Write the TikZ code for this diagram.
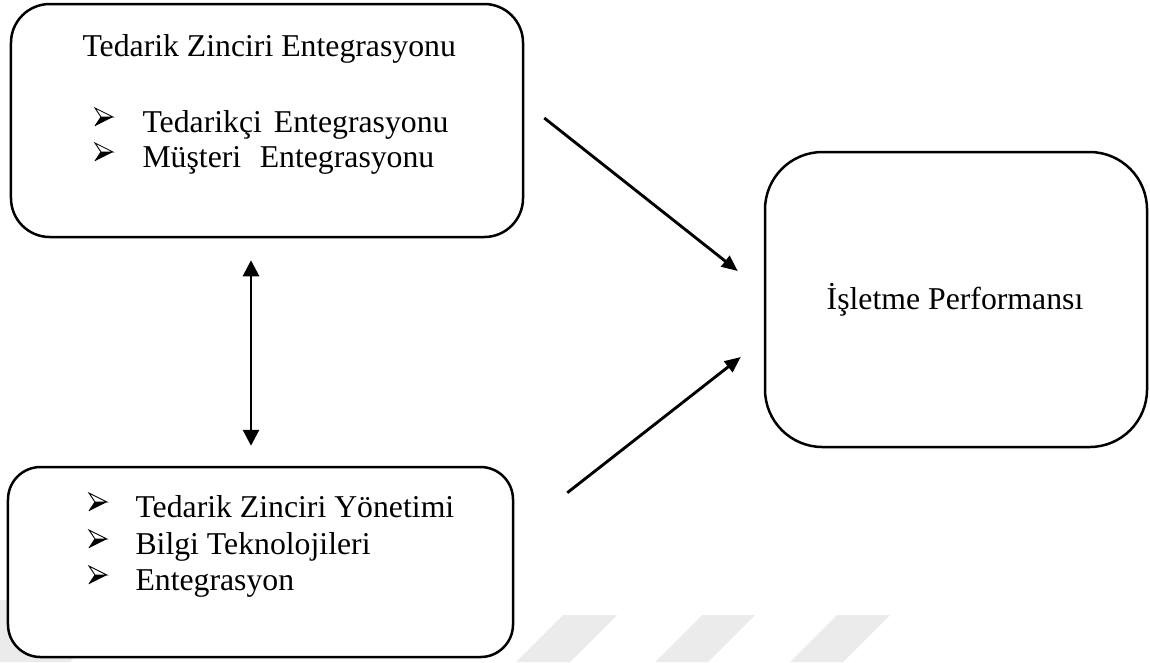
\documentclass[tikz,border=0pt]{standalone}
\usepackage{fontspec}
\setmainfont{Liberation Serif}
\usepackage{tikz}
\usetikzlibrary{arrows.meta,positioning}
\definecolor{FigInk}{HTML}{000000}
\definecolor{FigMark}{HTML}{EBEBEB}
\tikzset{arrowbullet/.pic={
  \draw[FigInk,line width=0.35pt,fill=white,line join=miter] (0,-24)--(18,-15)--(6,-15)--cycle;
  \fill[FigInk] (6,-15)--(18,-15)--(0,-6)--cycle;
  \draw[FigInk,line width=0.35pt] (6,-15)--(0,-6);}}

\begin{document}
\begin{tikzpicture}[x=0.4pt,y=-0.4pt,
  rbox/.style={draw=FigInk,line width=1pt,fill=white,inner sep=0pt},
  lbl/.style={inner sep=0pt,font=\fontsize{12.7}{15}\selectfont},
  flow/.style={draw=FigInk,line width=1.15pt,-{Triangle[length=6.4pt,width=5.4pt]}},
  both/.style={draw=FigInk,line width=1.15pt,{Triangle[length=6.4pt,width=6.4pt]}-{Triangle[length=6.4pt,width=6.4pt]}}]
\useasboundingbox (0,0) rectangle (1150,662);
\fill[FigMark] (516,662)--(563,615)--(617,615)--(570,662)--cycle;
\fill[FigMark] (655,662)--(702,615)--(755,615)--(708,662)--cycle;
\fill[FigMark] (790,662)--(837,615)--(890,615)--(843,662)--cycle;
\fill[FigMark] (0,662)--(70,662)--(130,600)--(0,600)--cycle;
\node[rbox,rounded corners=15.5pt,minimum width=204.8pt,minimum height=93.2pt] (sci) at (267,120.5) {};
\node[rbox,rounded corners=13pt,minimum width=202pt,minimum height=76pt] (scm) at (260.5,562) {};
\node[rbox,rounded corners=23pt,minimum width=152.8pt,minimum height=118pt] (perf) at (956,299.5) {};
\node[lbl,anchor=base west] (sciT) at (82,56) {Tedarik Zinciri Entegrasyonu};
\pic at (95,132) {arrowbullet};
\node[lbl,anchor=base west] (sciL1) at (142,132) {Tedarikçi\hspace{4.8pt}Entegrasyonu};
\pic at (95,167) {arrowbullet};
\node[lbl,anchor=base west] (sciL2) at (142,167) {Müşteri\hspace{7.4pt}Entegrasyonu};
\pic at (89,517) {arrowbullet};
\node[lbl,anchor=base west] (scmL1) at (135,517) {Tedarik Zinciri Yönetimi};
\pic at (89,554) {arrowbullet};
\node[lbl,anchor=base west] (scmL2) at (135,554) {Bilgi Teknolojileri};
\pic at (89,590) {arrowbullet};
\node[lbl,anchor=base west] (scmL3) at (135,590) {Entegrasyon};
\node[lbl,anchor=base] (perfT) at (955,309) {İşletme Performansı};
\draw[flow] ([shift={(20,-2.5)}]sci.east) -- ([shift={(-26,-28.5)}]perf.west);
\draw[flow] ([shift={(53,27)}]scm.north east) -- ([shift={(-23,57.5)}]perf.west);
\draw[both] ([shift={(-16,22)}]sci.south) -- ([shift={(-9.5,-20)}]scm.north);
\end{tikzpicture}
\end{document}
